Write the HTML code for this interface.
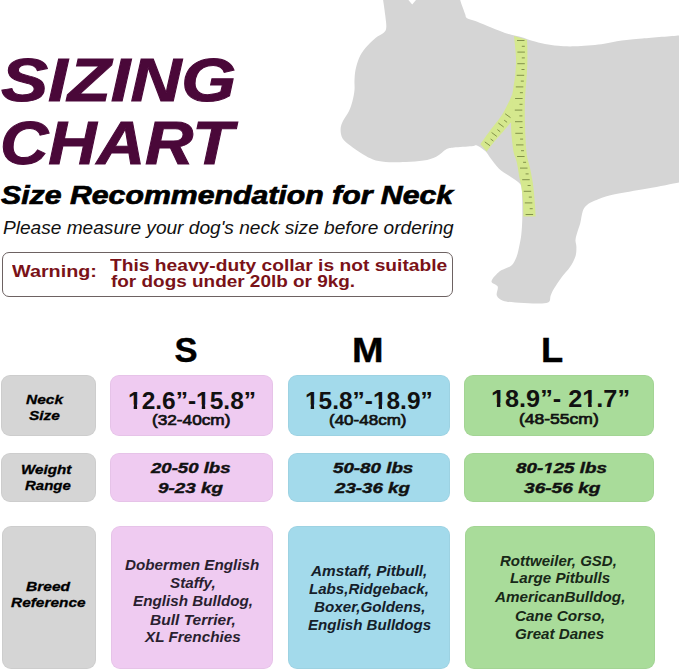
<!DOCTYPE html>
<html>
<head>
<meta charset="utf-8">
<style>
html,body{margin:0;padding:0;background:#fff;}
body{width:679px;height:672px;position:relative;overflow:hidden;font-family:"Liberation Sans",sans-serif;}
.t{position:absolute;white-space:nowrap;transform-origin:0 0;}
#dog{position:absolute;left:0;top:0;}
.ti{color:#4a0839;-webkit-text-stroke:1px #4a0839;}
.sr{color:#000;-webkit-text-stroke:0.7px #000;}
.pl{color:#111;}
.wr{color:#7a1218;}
.hd{color:#000;-webkit-text-stroke:0.4px #000;}
.lb{color:#000;-webkit-text-stroke:0.3px #000;}
.nv{color:#111;}
.cmv{color:#111;-webkit-text-stroke:0.7px #111;}
.wt{color:#111;-webkit-text-stroke:0.4px #111;}
.btp{color:#2a1f30;}
.btb{color:#15202a;}
.btg{color:#182818;}
.warn{position:absolute;left:2px;top:251.5px;width:451px;height:45px;border:1px solid #6d6262;border-radius:7px;box-sizing:border-box;}
.box{position:absolute;border-radius:9px;box-shadow:inset 0 0 0 1px rgba(0,0,0,0.035);}
.g{background:#d5d5d5;}
.p{background:#efcbf1;}
.b{background:#a3daeb;}
.gr{background:#a9dc9a;}
.one{display:inline-block;clip-path:polygon(0 0,100% 0,100% 0.65em,0.372em 0.65em,0.372em 100%,0.232em 100%,0.232em 0.65em,0 0.65em);}
.onei{display:inline-block;clip-path:polygon(0 0,100% 0,100% 0.6em,0.375em 0.6em,0.3em 100%,0.14em 100%,0.226em 0.6em,0 0.6em);}

</style>
</head>
<body>
<svg id="dog" width="679" height="310" viewBox="0 0 679 310">
<path fill="#d5d5d5" d="M383.1,0.0 C383.5,2.5 384.7,10.5 385.2,15.0 C385.7,19.5 386.5,24.1 386.3,27.0 C386.1,29.9 385.8,30.7 384.0,32.5 C382.2,34.3 378.6,35.3 375.5,37.9 C372.4,40.5 368.1,44.6 365.4,48.0 C362.6,51.4 360.6,54.5 359.0,58.2 C357.4,61.9 356.2,66.4 355.5,70.0 C354.8,73.6 354.7,76.7 354.5,80.0 C354.3,83.3 354.8,86.5 354.5,90.0 C354.2,93.5 353.4,97.5 352.5,101.0 C351.6,104.5 350.5,108.0 348.9,111.3 C347.3,114.6 344.4,118.0 343.0,121.0 C341.6,124.0 340.7,126.1 340.6,129.0 C340.5,131.9 341.0,135.8 342.6,138.5 C344.2,141.2 346.8,142.9 350.2,145.5 C353.6,148.1 359.0,152.0 362.8,154.3 C366.6,156.6 369.2,158.1 373.0,159.4 C376.8,160.7 380.1,161.5 385.6,161.9 C391.1,162.3 399.5,162.1 405.8,161.9 C412.1,161.7 418.4,161.4 423.5,160.6 C428.6,159.8 432.4,158.7 436.2,156.8 C440.0,154.9 443.4,150.9 446.3,149.3 C449.2,147.8 449.7,148.0 453.9,147.5 C458.1,147.0 467.8,146.5 471.6,146.2 C475.5,145.9 474.7,144.7 477.0,145.5 C479.3,146.3 483.3,149.3 485.5,151.3 C487.7,153.3 487.8,154.6 490.0,157.5 C492.2,160.4 495.9,165.7 499.0,168.7 C502.1,171.7 505.5,173.2 508.7,175.5 C511.9,177.8 516.3,180.2 518.4,182.2 C520.5,184.2 520.9,184.5 521.5,187.5 C522.1,190.5 522.1,194.8 522.2,200.0 C522.3,205.2 522.4,213.2 522.3,219.0 C522.1,224.8 521.8,230.0 521.3,234.5 C520.8,239.0 520.1,242.2 519.3,246.0 C518.5,249.8 517.7,253.8 516.5,257.0 C515.3,260.2 513.7,263.2 512.0,265.0 C510.3,266.8 508.6,266.9 506.5,268.0 C504.4,269.1 501.9,269.4 499.4,271.6 C496.9,273.8 491.8,278.8 491.5,281.3 C491.2,283.8 496.8,284.2 497.7,286.6 C498.6,289.0 495.9,293.0 496.8,295.4 C497.7,297.8 499.9,299.5 503.0,300.7 C506.1,301.9 510.3,302.1 515.3,302.5 C520.3,302.9 527.5,303.4 533.0,303.4 C538.5,303.4 545.0,303.8 548.0,302.5 C551.0,301.2 549.7,297.8 550.7,295.4 C551.7,293.0 552.4,291.2 554.2,288.3 C556.0,285.4 558.7,281.2 561.3,277.7 C563.9,274.2 567.6,270.6 570.0,267.1 C572.4,263.6 574.3,259.9 575.4,256.5 C576.5,253.2 576.4,249.8 576.4,247.0 C576.4,244.2 575.3,242.5 575.5,240.0 C575.7,237.5 576.6,234.8 577.4,232.0 C578.2,229.2 579.4,226.4 580.3,222.9 C581.2,219.4 581.7,214.0 582.8,211.0 C583.9,208.0 585.0,206.8 587.0,205.0 C589.0,203.2 590.8,202.2 595.0,200.5 C599.2,198.8 603.7,196.7 612.5,194.7 C621.3,192.7 636.5,190.6 647.6,188.5 C658.7,186.4 673.8,183.4 679.0,182.4 L679.0,35.4 C672.9,35.9 651.9,37.5 642.4,38.4 C632.9,39.2 628.7,39.5 621.9,40.5 C615.1,41.5 609.2,43.2 601.4,44.2 C593.6,45.2 582.2,46.0 575.0,46.3 C567.8,46.6 563.0,46.2 558.0,45.8 C553.0,45.4 549.3,44.8 545.0,44.0 C540.7,43.2 535.6,41.8 532.0,40.8 C528.4,39.8 526.4,38.7 523.5,37.8 C520.6,36.9 517.6,36.4 514.5,35.6 C511.4,34.8 508.8,34.2 505.0,32.9 C501.2,31.6 496.5,29.7 491.8,27.8 C487.1,25.9 480.8,23.1 476.7,21.5 C472.6,19.9 468.9,19.4 467.0,18.2 C465.1,17.0 466.0,16.3 465.3,14.5 C464.6,12.7 463.6,10.0 462.7,7.6 C461.8,5.2 460.6,1.3 460.2,0.0 L416,0 L412.2,4.6 L408.4,0 Z"/>
<path fill="#d5e88e" d="M514.0,36.0 C514.3,39.6 515.8,51.4 516.0,57.7 C516.2,64.0 515.7,69.1 515.3,74.0 C514.9,78.9 514.0,83.3 513.5,87.0 C513.0,90.7 512.5,92.2 512.2,96.0 C511.9,99.8 511.7,104.8 511.5,110.0 C511.3,115.2 511.0,122.2 511.1,127.5 C511.2,132.8 511.8,137.8 512.2,142.1 C512.7,146.3 513.0,149.7 513.8,153.0 C514.5,156.3 515.8,157.8 516.7,162.0 C517.7,166.2 518.8,174.0 519.5,177.9 C520.2,181.8 520.6,182.0 521.2,185.7 C521.8,189.4 522.5,195.1 522.9,200.2 C523.3,205.3 523.3,213.8 523.4,216.5 L535.7,216.5 C535.5,213.8 535.1,205.7 534.6,200.2 C534.1,194.7 533.7,189.0 532.9,183.5 C532.1,178.0 530.8,171.6 529.8,167.0 C528.8,162.4 527.7,160.5 527.0,156.0 C526.3,151.5 525.9,145.2 525.6,140.0 C525.3,134.8 525.1,129.9 525.0,125.0 C524.9,120.1 524.8,115.8 524.8,110.8 C524.8,105.8 524.9,100.1 525.2,95.0 C525.5,89.9 526.0,85.0 526.4,80.0 C526.8,75.0 527.1,70.0 527.3,65.0 C527.5,60.0 527.4,54.2 527.4,50.0 C527.4,45.8 527.1,41.5 527.0,39.8 Z"/>
<path fill="#d5e88e" d="M512.5,93.0 C512.0,94.2 511.5,96.6 509.6,100.4 C507.7,104.2 504.4,111.1 501.2,116.0 C498.1,120.9 494.3,124.9 490.8,129.6 C487.3,134.3 482.1,141.8 480.4,144.2 L486.7,151.5 C487.9,149.9 491.6,145.1 494.0,142.1 C496.4,139.1 498.8,136.7 501.2,133.8 C503.8,130.8 507.2,126.4 509.0,124.4 C510.8,122.4 511.5,122.0 512.0,121.5 Z"/>
<path fill="none" stroke="#82924a" stroke-width="1" d="M517.0,40.5H524.5 M521.8,46.3H524.8 M517.4,52.1H524.9 M521.8,57.9H524.8 M517.3,63.7H524.8 M521.5,69.5H524.5 M516.7,75.3H524.2 M520.8,81.1H523.8 M515.8,86.9H523.3 M519.9,92.7H522.9 M515.1,98.5H522.6 M519.5,104.3H522.5 M514.8,110.1H522.3 M519.4,115.9H522.4 M515.0,121.7H522.5 M519.6,127.5H522.6 M515.3,133.3H522.8 M520.1,139.1H523.1 M516.0,144.9H523.5 M521.0,150.7H524.0 M517.1,156.5H524.6 M523.1,162.3H526.1 M520.0,168.1H527.5 M525.6,173.9H528.6 M522.2,179.7H529.7 M527.6,185.5H530.6 M523.7,191.3H531.2 M528.8,197.1H531.8 M524.8,202.9H532.3 M529.7,208.7H532.7 M525.6,214.5H533.1"/>
<path fill="none" stroke="#82924a" stroke-width="1" d="M510.5,117.6L505.2,113.8 M507.1,122.3L504.2,120.2 M503.7,127.0L498.4,123.1 M500.2,131.7L497.4,129.6 M496.8,136.4L491.6,132.5 M493.4,141.0L490.6,139.0 M490.0,145.7L484.8,141.9"/>
</svg>
<div class="warn"></div>
<div class="box g" style="left:1px;top:375px;width:95px;height:61px;"></div>
<div class="box p" style="left:110px;top:375px;width:163px;height:61px;"></div>
<div class="box b" style="left:288px;top:375px;width:162px;height:61px;"></div>
<div class="box gr" style="left:464px;top:375px;width:190px;height:61px;"></div>
<div class="box g" style="left:1px;top:453px;width:95px;height:49px;"></div>
<div class="box p" style="left:110px;top:453px;width:163px;height:49px;"></div>
<div class="box b" style="left:288px;top:453px;width:162px;height:49px;"></div>
<div class="box gr" style="left:464px;top:453px;width:190px;height:49px;"></div>
<div class="box g" style="left:2px;top:526px;width:94px;height:143px;"></div>
<div class="box p" style="left:111px;top:526px;width:162px;height:143px;"></div>
<div class="box b" style="left:288px;top:526px;width:162px;height:143px;"></div>
<div class="box gr" style="left:465px;top:526px;width:189.5px;height:143px;"></div>

<div class="t ti" style="left:0.84px;top:50.16px;font-size:61px;line-height:61px;font-weight:bold;font-style:italic;transform:scaleX(1.1570)">SIZING</div>
<div class="t ti" style="left:0.21px;top:113.16px;font-size:61px;line-height:61px;font-weight:bold;font-style:italic;transform:scaleX(1.0977)">CHART</div>
<div class="t sr" style="left:0.91px;top:182.81px;font-size:25.5px;line-height:25.5px;font-weight:bold;font-style:italic;transform:scaleX(1.1861)">Size Recommendation for Neck</div>
<div class="t pl" style="left:3.45px;top:218.69px;font-size:18.2px;line-height:18.2px;font-weight:normal;font-style:italic;transform:scaleX(1.0502)">Please measure your dog's neck size before ordering</div>
<div class="t wr" style="left:11.50px;top:262.67px;font-size:17.4px;line-height:17.4px;font-weight:bold;font-style:normal;transform:scaleX(1.1370)">Warning:</div>
<div class="t wr" style="left:110.40px;top:256.97px;font-size:16.1px;line-height:16.1px;font-weight:bold;font-style:normal;transform:scaleX(1.1933)">This heavy-duty collar is not suitable</div>
<div class="t wr" style="left:111.00px;top:272.67px;font-size:16.1px;line-height:16.1px;font-weight:bold;font-style:normal;transform:scaleX(1.1767)">for dogs under 20lb or 9kg.</div>
<div class="t hd" style="left:174.50px;top:332.51px;font-size:34.6px;line-height:34.6px;font-weight:bold;font-style:normal;transform:scaleX(1.0000)">S</div>
<div class="t hd" style="left:351.51px;top:332.51px;font-size:34.6px;line-height:34.6px;font-weight:bold;font-style:normal;transform:scaleX(1.0960)">M</div>
<div class="t hd" style="left:541.30px;top:332.51px;font-size:34.6px;line-height:34.6px;font-weight:bold;font-style:normal;transform:scaleX(1.0500)">L</div>
<div class="t lb" style="left:26.30px;top:392.50px;font-size:13px;line-height:13px;font-weight:bold;font-style:italic;transform:scaleX(1.1935)">Neck</div>
<div class="t lb" style="left:29.11px;top:408.60px;font-size:13px;line-height:13px;font-weight:bold;font-style:italic;transform:scaleX(1.1880)">Size</div>
<div class="t lb" style="left:21.03px;top:462.80px;font-size:13px;line-height:13px;font-weight:bold;font-style:italic;transform:scaleX(1.1674)">Weight</div>
<div class="t lb" style="left:24.60px;top:479.10px;font-size:13px;line-height:13px;font-weight:bold;font-style:italic;transform:scaleX(1.1513)">Range</div>
<div class="t lb" style="left:26.20px;top:580.07px;font-size:13.5px;line-height:13.5px;font-weight:bold;font-style:italic;transform:scaleX(1.1526)">Breed</div>
<div class="t lb" style="left:11.00px;top:596.37px;font-size:13.5px;line-height:13.5px;font-weight:bold;font-style:italic;transform:scaleX(1.1415)">Reference</div>
<div class="t nv" style="left:128.39px;top:388.75px;font-size:24.4px;line-height:24.4px;font-weight:bold;font-style:normal;transform:scaleX(1.0040)"><span class="one">1</span>2.6”-<span class="one">1</span>5.8”</div>
<div class="t cmv" style="left:152.18px;top:412.36px;font-size:15.4px;line-height:15.4px;font-weight:normal;font-style:normal;transform:scaleX(1.1176)">(32-40cm)</div>
<div class="t nv" style="left:305.00px;top:388.55px;font-size:24.4px;line-height:24.4px;font-weight:bold;font-style:normal;transform:scaleX(1.0016)"><span class="one">1</span>5.8”-<span class="one">1</span>8.9”</div>
<div class="t cmv" style="left:329.20px;top:412.36px;font-size:15.4px;line-height:15.4px;font-weight:normal;font-style:normal;transform:scaleX(1.1044)">(40-48cm)</div>
<div class="t nv" style="left:490.93px;top:386.85px;font-size:24.4px;line-height:24.4px;font-weight:bold;font-style:normal;transform:scaleX(1.0354)"><span class="one">1</span>8.9”- 2<span class="one">1</span>.7”</div>
<div class="t cmv" style="left:519.16px;top:410.66px;font-size:15.4px;line-height:15.4px;font-weight:normal;font-style:normal;transform:scaleX(1.1368)">(48-55cm)</div>
<div class="t wt" style="left:151.30px;top:461.47px;font-size:14.8px;line-height:14.8px;font-weight:bold;font-style:italic;transform:scaleX(1.2556)">20-50 lbs</div>
<div class="t wt" style="left:157.73px;top:480.77px;font-size:14.8px;line-height:14.8px;font-weight:bold;font-style:italic;transform:scaleX(1.2740)">9-23 kg</div>
<div class="t wt" style="left:333.43px;top:461.47px;font-size:14.8px;line-height:14.8px;font-weight:bold;font-style:italic;transform:scaleX(1.2677)">50-80 lbs</div>
<div class="t wt" style="left:335.40px;top:480.77px;font-size:14.8px;line-height:14.8px;font-weight:bold;font-style:italic;transform:scaleX(1.2661)">23-36 kg</div>
<div class="t wt" style="left:516.00px;top:461.47px;font-size:14.8px;line-height:14.8px;font-weight:bold;font-style:italic;transform:scaleX(1.2704)">80-<span class="onei">1</span>25 lbs</div>
<div class="t wt" style="left:523.81px;top:480.77px;font-size:14.8px;line-height:14.8px;font-weight:bold;font-style:italic;transform:scaleX(1.2914)">36-56 kg</div>
<div class="t bt btp" style="left:125.30px;top:557.65px;font-size:14px;line-height:14px;font-weight:bold;font-style:italic;transform:scaleX(1.0854)">Dobermen English</div>
<div class="t bt btp" style="left:169.50px;top:575.75px;font-size:14px;line-height:14px;font-weight:bold;font-style:italic;transform:scaleX(1.0854)">Staffy,</div>
<div class="t bt btp" style="left:132.80px;top:593.85px;font-size:14px;line-height:14px;font-weight:bold;font-style:italic;transform:scaleX(1.0872)">English Bulldog,</div>
<div class="t bt btp" style="left:149.90px;top:612.65px;font-size:14px;line-height:14px;font-weight:bold;font-style:italic;transform:scaleX(1.1092)">Bull Terrier,</div>
<div class="t bt btp" style="left:144.60px;top:630.15px;font-size:14px;line-height:14px;font-weight:bold;font-style:italic;transform:scaleX(1.0920)">XL Frenchies</div>
<div class="t bt btb" style="left:311.30px;top:563.55px;font-size:14px;line-height:14px;font-weight:bold;font-style:italic;transform:scaleX(1.0943)">Amstaff, Pitbull,</div>
<div class="t bt btb" style="left:309.30px;top:581.65px;font-size:14px;line-height:14px;font-weight:bold;font-style:italic;transform:scaleX(1.0773)">Labs,Ridgeback,</div>
<div class="t bt btb" style="left:314.00px;top:599.85px;font-size:14px;line-height:14px;font-weight:bold;font-style:italic;transform:scaleX(1.0861)">Boxer,Goldens,</div>
<div class="t bt btb" style="left:308.20px;top:617.75px;font-size:14px;line-height:14px;font-weight:bold;font-style:italic;transform:scaleX(1.0763)">English Bulldogs</div>
<div class="t bt btg" style="left:500.30px;top:554.15px;font-size:14px;line-height:14px;font-weight:bold;font-style:italic;transform:scaleX(1.0731)">Rottweiler, GSD,</div>
<div class="t bt btg" style="left:509.60px;top:571.25px;font-size:14px;line-height:14px;font-weight:bold;font-style:italic;transform:scaleX(1.0826)">Large Pitbulls</div>
<div class="t bt btg" style="left:494.50px;top:590.25px;font-size:14px;line-height:14px;font-weight:bold;font-style:italic;transform:scaleX(1.0882)">AmericanBulldog,</div>
<div class="t bt btg" style="left:514.70px;top:608.75px;font-size:14px;line-height:14px;font-weight:bold;font-style:italic;transform:scaleX(1.0950)">Cane Corso,</div>
<div class="t bt btg" style="left:514.72px;top:626.95px;font-size:14px;line-height:14px;font-weight:bold;font-style:italic;transform:scaleX(1.0815)">Great Danes</div>
</body>
</html>
